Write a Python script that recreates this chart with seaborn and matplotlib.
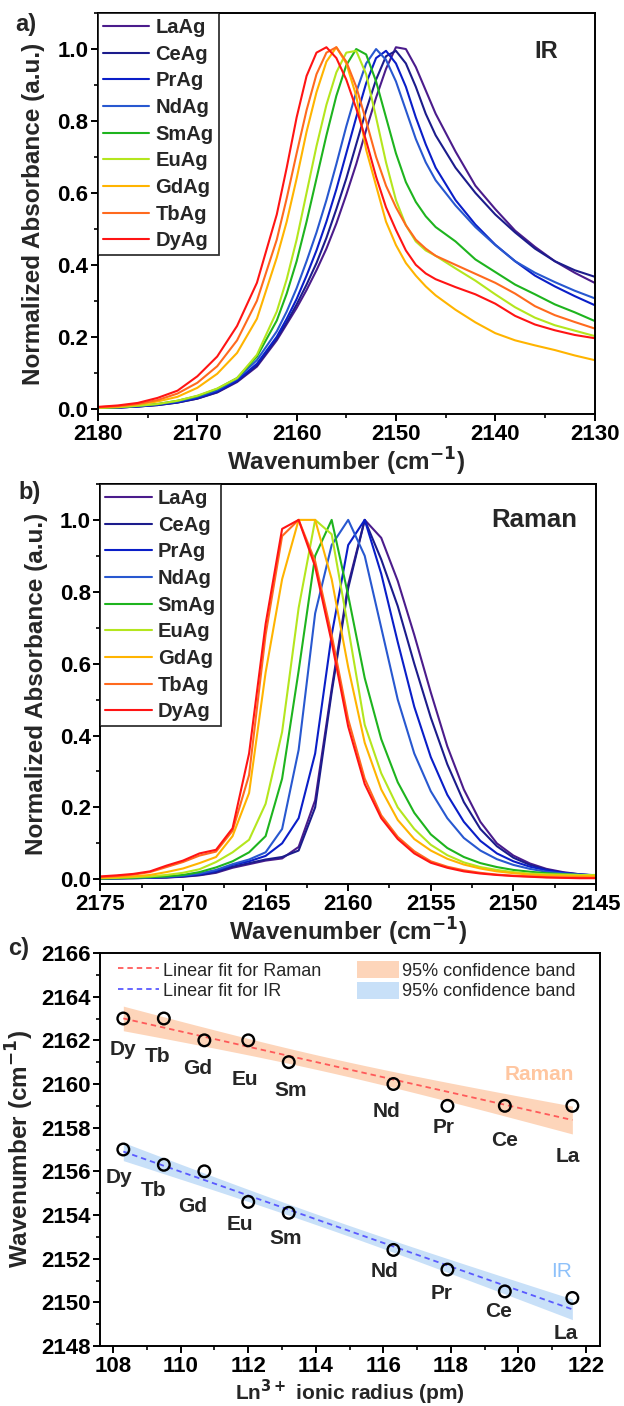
import numpy as np
import pandas as pd
import matplotlib
matplotlib.use("Agg")
import matplotlib.pyplot as plt
from matplotlib.lines import Line2D
from matplotlib.patches import Patch
from matplotlib.ticker import MultipleLocator, FormatStrFormatter
import seaborn as sns

# --- series names / colours (legend order) ---
SAMPLES = ['LaAg', 'CeAg', 'PrAg', 'NdAg', 'SmAg', 'EuAg', 'GdAg', 'TbAg', 'DyAg']
COLORS = ['#4B1C8C', '#1C1C8C', '#0A1EC8', '#2858D0', '#1EB41E',
          '#B4E61E', '#FFB400', '#FF6A1E', '#FF1414']

# --- IR spectra (panel a) ---
IR_WN = [2180, 2178, 2176, 2174, 2172, 2170, 2168, 2166, 2164, 2162, 2161, 2160,
         2159, 2158, 2157, 2156, 2155, 2154, 2153, 2152, 2151, 2150, 2149, 2148,
         2147, 2146, 2144, 2142, 2140, 2138, 2136, 2134, 2132, 2130]
IR_LA = [.002, .003, .006, .010, .017, .028, .045, .074, .117, .19, .235, .28,
         .33, .385, .445, .515, .595, .68, .775, .865, .945, 1.005, 1.0, .95,
         .885, .82, .715, .62, .555, .495, .45, .41, .378, .35]
IR_CE = [.002, .003, .006, .010, .017, .028, .046, .076, .12, .195, .24, .29,
         .345, .405, .475, .555, .64, .735, .83, .915, .98, .995, .96, .895,
         .82, .76, .67, .60, .54, .49, .445, .41, .385, .367]
IR_PR = [.002, .003, .006, .011, .018, .030, .048, .078, .125, .20, .25, .305,
         .37, .44, .52, .61, .71, .81, .905, .975, .995, .96, .895, .81,
         .735, .67, .58, .512, .456, .41, .37, .34, .313, .288]
IR_ND = [.002, .004, .007, .012, .020, .033, .052, .083, .135, .215, .27, .335,
         .41, .49, .58, .68, .785, .88, .96, 1.0, .97, .91, .83, .75,
         .685, .635, .565, .505, .455, .41, .378, .352, .328, .307]
IR_SM = [.002, .004, .008, .013, .022, .035, .055, .085, .145, .245, .32, .41,
         .52, .64, .76, .87, .955, 1.0, .985, .91, .81, .71, .63, .575,
         .535, .505, .465, .415, .38, .345, .318, .29, .268, .244]
IR_EU = [.002, .004, .008, .013, .022, .036, .056, .085, .15, .27, .36, .47,
         .60, .73, .845, .935, .99, .995, .93, .81, .685, .58, .51, .465,
         .44, .425, .39, .356, .318, .282, .253, .232, .217, .202]
IR_GD = [.003, .006, .012, .020, .033, .058, .097, .155, .25, .42, .52, .64,
         .77, .88, .965, 1.005, .96, .87, .72, .62, .52, .455, .405, .37,
         .34, .315, .275, .24, .21, .19, .176, .163, .148, .135]
IR_TB = [.004, .007, .013, .024, .042, .072, .118, .19, .30, .47, .585, .71,
         .83, .93, .99, 1.005, .965, .895, .80, .70, .62, .56, .51, .47,
         .445, .425, .40, .375, .35, .32, .285, .26, .241, .223]
IR_DY = [.005, .009, .016, .030, .050, .090, .145, .23, .35, .54, .67, .81,
         .925, .99, 1.005, .975, .915, .835, .745, .645, .56, .497, .44, .40,
         .376, .36, .338, .318, .292, .258, .234, .218, .205, .196]

# --- Raman spectra (panel b) ---
RAMAN_WN = [2175, 2174, 2173, 2172, 2171, 2170, 2169, 2168, 2167, 2166, 2165,
            2164, 2163, 2162, 2161, 2160, 2159, 2158, 2157, 2156, 2155, 2154,
            2153, 2152, 2151, 2150, 2149, 2148, 2147, 2146, 2145]
RA_LA = [.002, .002, .003, .004, .005, .007, .011, .018, .032, .042, .052, .058,
         .09, .22, .53, .82, 1.0, .95, .83, .68, .52, .37, .25, .16, .10, .066,
         .044, .029, .020, .014, .010]
RA_CE = [.002, .003, .003, .004, .005, .008, .012, .020, .035, .045, .055, .062,
         .08, .20, .52, .81, 1.0, .89, .76, .60, .45, .32, .215, .14, .092, .06,
         .04, .027, .018, .013, .009]
RA_PR = [.002, .003, .004, .005, .006, .009, .014, .023, .040, .050, .065, .10,
         .17, .35, .68, .93, 1.0, .85, .66, .48, .34, .235, .16, .107, .072, .05,
         .035, .025, .018, .014, .011]
RA_ND = [.002, .003, .004, .005, .007, .010, .016, .026, .042, .055, .075, .14,
         .36, .74, .93, 1.0, .90, .70, .50, .35, .245, .17, .115, .08, .056, .04,
         .029, .021, .016, .013, .011]
RA_SM = [.002, .003, .004, .006, .008, .012, .020, .033, .050, .075, .12, .28,
         .58, .90, 1.0, .79, .56, .39, .27, .185, .125, .087, .062, .045, .034,
         .026, .021, .017, .014, .012, .011]
RA_EU = [.003, .004, .006, .008, .012, .018, .028, .048, .075, .11, .21, .41,
         .755, 1.0, .96, .70, .43, .295, .20, .14, .096, .067, .047, .034, .026,
         .020, .016, .014, .013, .012, .012]
RA_GD = [.004, .006, .008, .012, .020, .030, .045, .062, .12, .24, .575, .835,
         1.0, 1.0, .835, .59, .38, .25, .165, .112, .08, .057, .041, .030, .022,
         .017, .013, .011, .010, .009, .009]
RA_TB = [.006, .009, .013, .020, .034, .048, .066, .077, .135, .29, .68, .955,
         1.0, .885, .68, .445, .28, .178, .118, .078, .05, .035, .025, .018,
         .013, .010, .008, .006, .005, .005, .004]
RA_DY = [.008, .011, .015, .022, .038, .052, .072, .082, .142, .35, .71, .975,
         1.0, .87, .66, .425, .265, .17, .112, .072, .046, .032, .022, .016,
         .012, .009, .007, .005, .004, .003, .003]

# --- peak positions vs ionic radius (panel c) ---
IONS = ['La', 'Ce', 'Pr', 'Nd', 'Sm', 'Eu', 'Gd', 'Tb', 'Dy']
RADIUS = [121.6, 119.6, 117.9, 116.3, 113.2, 112.0, 110.7, 109.5, 108.3]
RAMAN_PEAK = [2159, 2159, 2159, 2160, 2161, 2162, 2162, 2163, 2163]
IR_PEAK = [2150.2, 2150.5, 2151.5, 2152.4, 2154.1, 2154.6, 2156.0, 2156.3, 2157.0]

# label offsets (data units) of the ion names under each point
RAMAN_LABEL_OFF = [(-0.13, -2.3), (0, -1.6), (-0.1, -1.0), (-0.2, -1.25), (0.07, -1.3),
                   (-0.1, -1.8), (-0.2, -1.3), (-0.2, -1.75), (0, -1.4)]
IR_LABEL_OFF = [(-0.2, -1.63), (-0.2, -0.9), (-0.17, -1.1), (-0.26, -1.0), (-0.1, -1.16),
                (-0.25, -1.03), (-0.34, -1.6), (-0.3, -1.17), (-0.13, -1.3)]

RAMAN_FIT_C = '#FF5A5A'
IR_FIT_C = '#5A5AFF'
RAMAN_BAND_C = '#FDD5BA'
IR_BAND_C = '#C8E0F8'
FIT_DASH = (0, (3, 2.2))

LABEL_SIZE = 17.5
TICK_SIZE = 16

sns.set_style('ticks')
plt.rcParams['font.family'] = ['Liberation Sans', 'DejaVu Sans']
plt.rcParams['font.weight'] = 'bold'
plt.rcParams['axes.labelweight'] = 'bold'
plt.rcParams['axes.linewidth'] = 1.4
plt.rcParams['axes.edgecolor'] = 'black'
for ax_name in ('xtick', 'ytick'):
    plt.rcParams[f'{ax_name}.direction'] = 'out'
    plt.rcParams[f'{ax_name}.major.size'] = 5
    plt.rcParams[f'{ax_name}.minor.size'] = 3
    plt.rcParams[f'{ax_name}.major.width'] = 1.4
    plt.rcParams[f'{ax_name}.minor.width'] = 1.2
    plt.rcParams[f'{ax_name}.labelsize'] = TICK_SIZE
    plt.rcParams[f'{ax_name}.color'] = 'black'
plt.rcParams['xtick.major.pad'] = 2.5
plt.rcParams['ytick.major.pad'] = 2


def plot_spectra(ax, wn, series, xlim, xmajor, ylim, tag, tag_xy, tag_size):
    frames = [pd.DataFrame({'wn': wn, 'absorb': vals, 'sample': name})
              for name, vals in zip(SAMPLES, series)]
    df = pd.concat(frames, ignore_index=True)
    sns.lineplot(data=df, x='wn', y='absorb', hue='sample', hue_order=SAMPLES,
                 palette=dict(zip(SAMPLES, COLORS)), estimator=None,
                 linewidth=1.5, legend=False, ax=ax)
    ax.set_xlim(*xlim)
    ax.set_ylim(*ylim)
    ax.xaxis.set_major_locator(MultipleLocator(xmajor))
    ax.xaxis.set_minor_locator(MultipleLocator(xmajor / 2))
    ax.yaxis.set_major_locator(MultipleLocator(0.2))
    ax.yaxis.set_minor_locator(MultipleLocator(0.1))
    ax.yaxis.set_major_formatter(FormatStrFormatter('%.1f'))
    ax.set_xlabel('Wavenumber (cm$^{\\mathbf{-1}}$)', fontsize=LABEL_SIZE)
    ax.set_ylabel('Normalized Absorbance (a.u.)', fontsize=LABEL_SIZE)
    ax.xaxis.set_label_coords(0.5, -0.08)
    ax.yaxis.set_label_coords(-0.106, 0.5)
    handles = [Line2D([], [], color=c, lw=1.5) for c in COLORS]
    leg = ax.legend(handles, SAMPLES, loc='upper left', borderaxespad=0,
                    fancybox=False, edgecolor='black', handlelength=2.3,
                    handletextpad=0.3, labelspacing=0.38, borderpad=0.25,
                    prop={'size': 14.5, 'weight': 'bold'})
    leg.get_frame().set_linewidth(1.3)
    ax.text(tag_xy[0], tag_xy[1], tag, transform=ax.transAxes, ha='right',
            va='center', fontsize=tag_size, fontweight='bold')


def fit_band(x, y, xs):
    x = np.asarray(x, float)
    y = np.asarray(y, float)
    slope, icpt = np.polyfit(x, y, 1)
    resid = y - (slope * x + icpt)
    n = len(x)
    s = np.sqrt(np.sum(resid ** 2) / (n - 2))
    sxx = np.sum((x - x.mean()) ** 2)
    yfit = slope * xs + icpt
    half = 2.365 * s * np.sqrt(1 / n + (xs - x.mean()) ** 2 / sxx)
    return yfit, yfit - half, yfit + half


def plot_peaks(ax):
    xs = np.linspace(min(RADIUS), max(RADIUS), 200)
    for peaks, fit_c, band_c in ((RAMAN_PEAK, RAMAN_FIT_C, RAMAN_BAND_C),
                                 (IR_PEAK, IR_FIT_C, IR_BAND_C)):
        yfit, lo, hi = fit_band(RADIUS, peaks, xs)
        ax.fill_between(xs, lo, hi, color=band_c, lw=0, zorder=1)
        ax.plot(xs, yfit, color=fit_c, lw=1.3, ls=FIT_DASH, zorder=2)

    df = pd.DataFrame({'radius': RADIUS * 2, 'peak': RAMAN_PEAK + IR_PEAK})
    sns.scatterplot(data=df, x='radius', y='peak', marker='o', s=70,
                    facecolor='none', edgecolor='black', linewidth=1.7,
                    zorder=3, ax=ax)

    for peaks, offs in ((RAMAN_PEAK, RAMAN_LABEL_OFF), (IR_PEAK, IR_LABEL_OFF)):
        for ion, r, p, (dx, dy) in zip(IONS, RADIUS, peaks, offs):
            ax.text(r + dx, p + dy, ion, ha='center', va='center',
                    fontsize=15, fontweight='bold')

    ax.text(121.64, 2160.44, 'Raman', color='#FFC6A0', ha='right', va='center',
            fontsize=15, fontweight='bold')
    ax.text(121.6, 2151.42, 'IR', color='#8EC1FA', ha='right', va='center',
            fontsize=15, fontweight='normal')

    ax.set_xlim(107.61, 122.42)
    ax.set_ylim(2148, 2166)
    ax.xaxis.set_major_locator(MultipleLocator(2))
    ax.xaxis.set_minor_locator(MultipleLocator(1))
    ax.yaxis.set_major_locator(MultipleLocator(2))
    ax.yaxis.set_minor_locator(MultipleLocator(1))
    ax.set_xlabel('Ln$^{\\mathbf{3+}}$ ionic radius (pm)', fontsize=15)
    ax.set_ylabel('Wavenumber (cm$^{\\mathbf{-1}}$)', fontsize=LABEL_SIZE)
    ax.xaxis.set_label_coords(0.5, -0.081)
    ax.yaxis.set_label_coords(-0.128, 0.5)

    handles = [Line2D([], [], color=RAMAN_FIT_C, lw=1.3, ls=FIT_DASH),
               Line2D([], [], color=IR_FIT_C, lw=1.3, ls=FIT_DASH),
               Patch(facecolor=RAMAN_BAND_C, edgecolor='none'),
               Patch(facecolor=IR_BAND_C, edgecolor='none')]
    labels = ['Linear fit for Raman', 'Linear fit for IR',
              '95% confidence band', '95% confidence band']
    ax.legend(handles, labels, ncol=2, loc='upper left', bbox_to_anchor=(0.01, 1.012),
              frameon=False, handlelength=2.3, handleheight=1.1,
              handletextpad=0.2, columnspacing=2.0, labelspacing=0.1,
              borderpad=0.2, prop={'size': 13, 'weight': 'normal'})


fig = plt.figure(figsize=(6.24, 14.06), dpi=100)
ax_a = fig.add_axes([0.1571, 0.7055, 0.7957, 0.2852])
ax_b = fig.add_axes([0.1609, 0.3713, 0.7942, 0.2845])
ax_c = fig.add_axes([0.1603, 1 - 1346 / 1406, 0.8013, 393 / 1406])

plot_spectra(ax_a, IR_WN,
             [IR_LA, IR_CE, IR_PR, IR_ND, IR_SM, IR_EU, IR_GD, IR_TB, IR_DY],
             (2180, 2130), 10, (-0.015, 1.1), 'IR', (0.926, 0.904), 17)
plot_spectra(ax_b, RAMAN_WN,
             [RA_LA, RA_CE, RA_PR, RA_ND, RA_SM, RA_EU, RA_GD, RA_TB, RA_DY],
             (2175, 2145), 5, (-0.013, 1.1), 'Raman', (0.962, 0.91), 18.5)
plot_peaks(ax_c)

fig.text(15 / 624, 1 - 25 / 1406, 'a)', fontsize=17, fontweight='bold', va='center')
fig.text(18 / 624, 1 - 492 / 1406, 'b)', fontsize=17, fontweight='bold', va='center')
fig.text(8 / 624, 1 - 948 / 1406, 'c)', fontsize=17, fontweight='bold', va='center')

fig.savefig('out.png', dpi=100)
